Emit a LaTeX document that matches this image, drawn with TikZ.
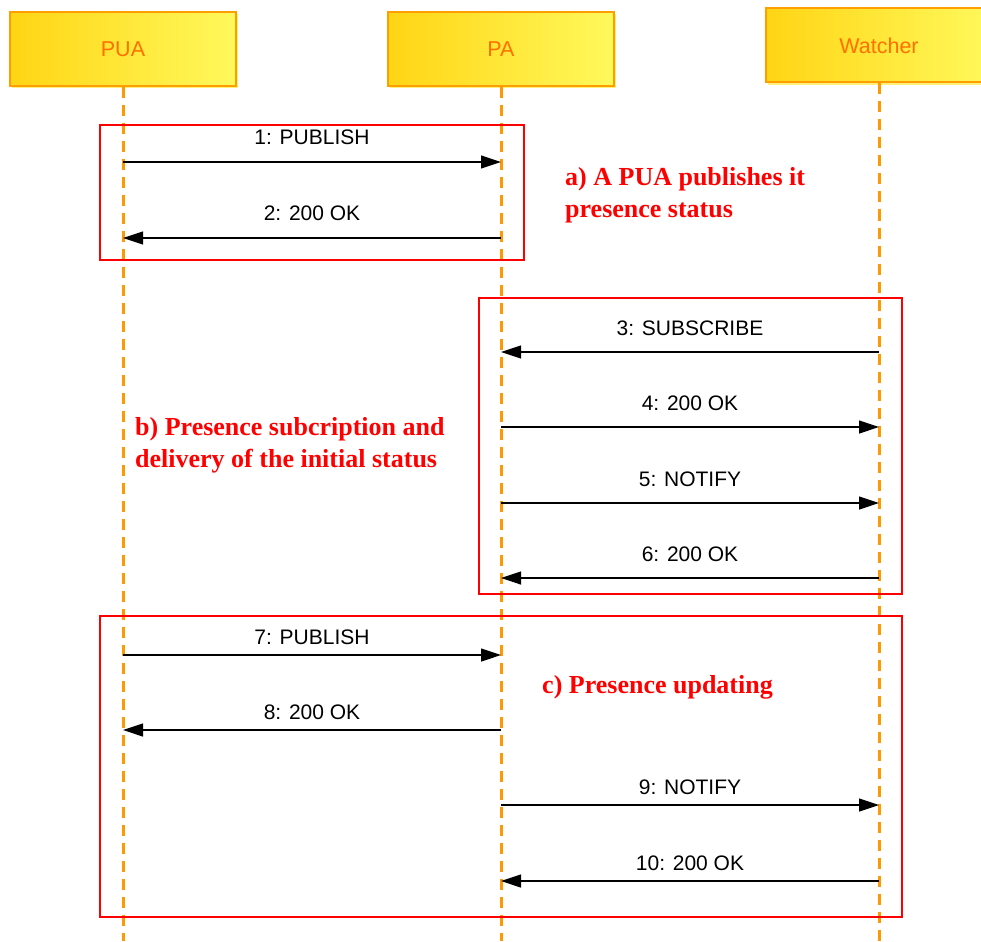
\documentclass[tikz,border=0pt]{standalone}
\usepackage{fontspec}
\setmainfont{Liberation Serif}
\setsansfont{Liberation Sans}
\usetikzlibrary{arrows.meta}
\definecolor{lifeor}{HTML}{FF9900}
\definecolor{hdrtext}{HTML}{FF7000}
\definecolor{hdrleft}{HTML}{FFD514}
\definecolor{hdrright}{HTML}{FFF95C}
\definecolor{hdrborder}{HTML}{FF9E00}
\definecolor{hdrshadow}{HTML}{FFF07A}
\begin{document}
\begin{tikzpicture}[x=1pt,y=-1pt,
 hdr/.style={draw=hdrborder, line width=2pt, left color=hdrleft, right color=hdrright, minimum width=226pt, minimum height=74pt, inner sep=0pt, font=\sffamily\fontsize{21.5}{24}\selectfont, text=hdrtext},
 life/.style={draw=lifeor, line width=3pt, dash pattern=on 11pt off 7pt},
 msg/.style={draw=black, line width=1.2pt, -{Triangle[length=20pt,width=13pt]}},
 lbl/.style={font=\sffamily\fontsize{21}{24}\selectfont, anchor=base, inner sep=0pt, yshift=17pt},
 lblc/.style={lbl, yshift=-6pt},
 frame/.style={draw=red, line width=1.5pt},
 note/.style={text=red, font=\bfseries\fontsize{26}{32}\selectfont, align=left, anchor=north west, inner sep=0pt}]
\useasboundingbox (0,0) rectangle (981,941);
\clip (0,0) rectangle (981,941);
\fill[white] (0,0) rectangle (981,941);

% header shadows
\fill[hdrshadow] (12,14) rectangle (238,88);
\fill[hdrshadow] (390,14) rectangle (616,88);
\fill[hdrshadow] (768,10) rectangle (994,85);

% headers
\node[hdr] (pua) at (123,49) {PUA};
\node[hdr] (pa) at (501,49) {PA};
\node[hdr] (wat) at (879,45.5) {Watcher};

% lifeline ends
\coordinate (puaend) at (123,941);
\coordinate (paend) at (501,941);
\coordinate (watend) at (879,941);
\draw[life] (pua.south) -- (puaend);
\draw[life] (pa.south) -- (paend);
\draw[life] (wat.south) -- (watend);

% frames
\draw[frame] (100,125) rectangle (524,260);
\draw[frame] (479,298) rectangle (902,594);
\draw[frame] (100,616) rectangle (902,917);

% message points
\coordinate (u1) at (123,162); \coordinate (a1) at (501,162);
\coordinate (u2) at (123,238); \coordinate (a2) at (501,238);
\coordinate (a3) at (501,352); \coordinate (w3) at (879,352);
\coordinate (a4) at (501,427); \coordinate (w4) at (879,427);
\coordinate (a5) at (501,503); \coordinate (w5) at (879,503);
\coordinate (a6) at (501,578); \coordinate (w6) at (879,578);
\coordinate (u7) at (123,655); \coordinate (a7) at (501,655);
\coordinate (u8) at (123,730); \coordinate (a8) at (501,730);
\coordinate (a9) at (501,805); \coordinate (w9) at (879,805);
\coordinate (a10) at (501,881); \coordinate (w10) at (879,881);

% messages
\draw[msg] (u1) -- node[lbl]{1: PUBLISH} (a1);
\draw[msg] (a2) -- node[lbl]{2: 200 OK} (u2);
\draw[msg] (w3) -- node[lbl]{3: SUBSCRIBE} (a3);
\draw[msg] (a4) -- node[lbl]{4: 200 OK} (w4);
\draw[msg] (a5) -- node[lbl]{5: NOTIFY} (w5);
\draw[msg] (w6) -- node[lbl]{6: 200 OK} (a6);
\draw[msg] (u7) -- node[lblc]{7: PUBLISH} (a7);
\draw[msg] (a8) -- node[lblc]{8: 200 OK} (u8);
\draw[msg] (a9) -- node[lblc]{9: NOTIFY} (w9);
\draw[msg] (w10) -- node[lblc]{10: 200 OK} (a10);

% notes
\node[note] (na) at (565,167) {a) A PUA publishes it\\presence status};
\node[note] (nb) at (135,417) {b) Presence subcription and\\delivery of the initial status};
\node[note] (nc) at (542,675) {c) Presence updating};
\end{tikzpicture}
\end{document}
